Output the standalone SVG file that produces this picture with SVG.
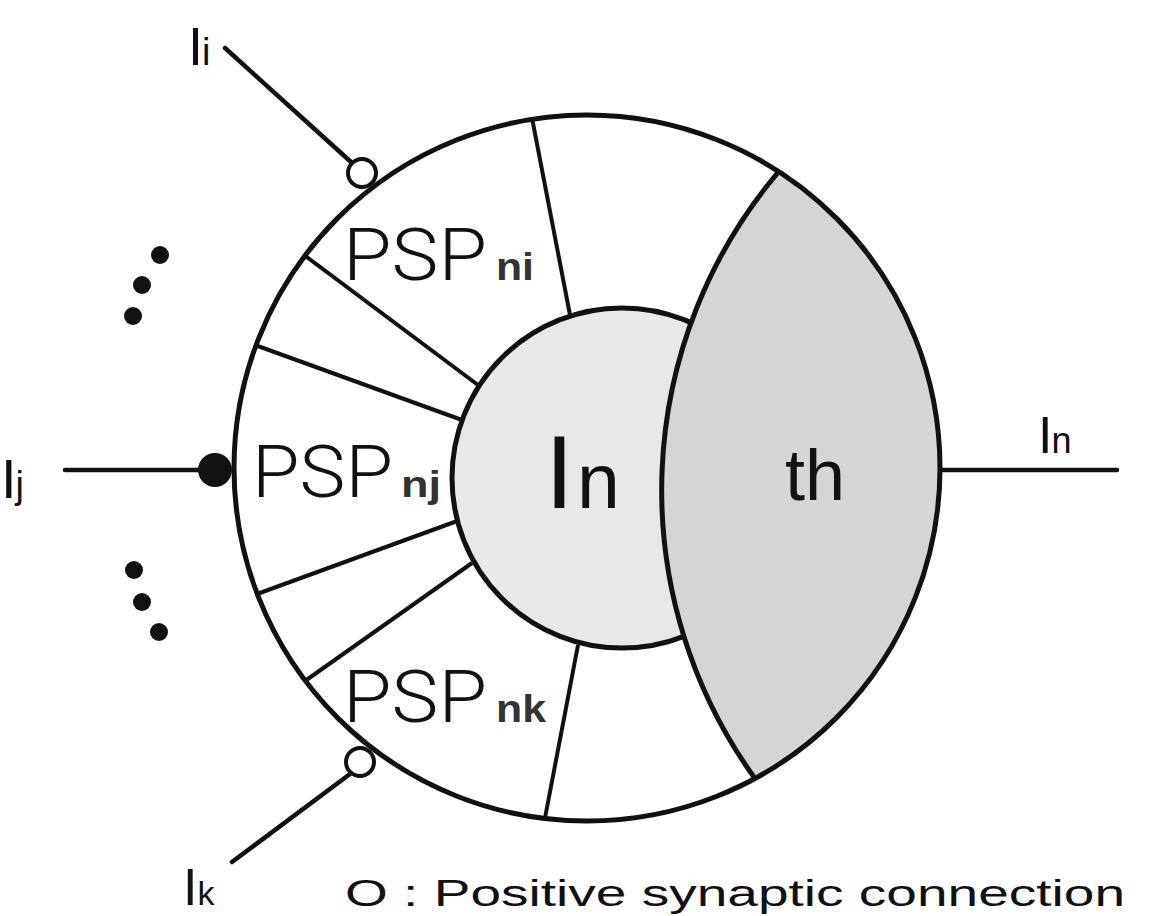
<svg xmlns="http://www.w3.org/2000/svg" width="1155" height="916" viewBox="0 0 1155 916">
<style>
.ln{stroke:#111;stroke-width:4.5;fill:none;stroke-linecap:round}
.thin{stroke:#111;stroke-width:4;fill:none}
.lbl{font-family:"Liberation Sans",Arial,sans-serif;fill:#111}
.psp{font-family:"Roboto","Liberation Sans",sans-serif;font-weight:300;font-size:72px;fill:#111}
.sub{font-family:"Liberation Sans",Arial,sans-serif;font-weight:bold;fill:#333}
.dot{fill:#111}
</style>
<rect width="1155" height="916" fill="#fff"/>
<g id="neuron">
  <circle cx="587" cy="468" r="353" fill="#fff" stroke="none"/>
</g>
<g id="psp-dividers">
  <line class="thin" x1="532" y1="118" x2="570" y2="315"/>
  <line class="thin" x1="304" y1="255" x2="478" y2="385"/>
  <line class="thin" x1="255" y1="345" x2="462" y2="420"/>
  <line class="thin" x1="257" y1="594" x2="460" y2="520"/>
  <line class="thin" x1="305" y1="681" x2="472" y2="563"/>
  <line class="thin" x1="545" y1="818" x2="578" y2="645"/>
</g>
<g id="In-node">
  <circle cx="622" cy="478" r="170" fill="#e8e8e8" stroke="#111" stroke-width="5"/>
  <text class="lbl" x="545" y="508" font-size="104">I<tspan dx="3" font-size="77">n</tspan></text>
</g>
<g id="th-node">
  <path d="M778 172.5 A492 492 0 0 0 755 778.5 A353 353 0 0 0 778 172.5 Z" fill="#d5d5d5" stroke="none"/>
  <path d="M778 172.5 A492 492 0 0 0 755 778.5" fill="none" stroke="#111" stroke-width="5"/>
  <text class="lbl" x="785" y="500" font-size="72" fill="#2a2a2a">th</text>
</g>
<g id="neuron-outline">
  <circle cx="587" cy="468" r="353" fill="none" stroke="#111" stroke-width="5"/>
</g>
<g id="psp-labels">
  <text class="psp" x="343" y="280" textLength="144" lengthAdjust="spacingAndGlyphs">PSP</text>
  <text class="sub" x="496" y="280" font-size="38" textLength="38" lengthAdjust="spacingAndGlyphs">ni</text>
  <text class="psp" x="252" y="497" textLength="141" lengthAdjust="spacingAndGlyphs">PSP</text>
  <text class="sub" x="401" y="497" font-size="36" textLength="40" lengthAdjust="spacingAndGlyphs">nj</text>
  <text class="psp" x="343" y="722" textLength="144" lengthAdjust="spacingAndGlyphs">PSP</text>
  <text class="sub" x="496" y="722" font-size="38" textLength="50" lengthAdjust="spacingAndGlyphs">nk</text>
</g>
<g id="connectors">
  <line class="ln" x1="225" y1="48" x2="351" y2="162"/>
  <line class="ln" x1="232" y1="862" x2="350" y2="774"/>
  <line class="ln" x1="65" y1="470" x2="205" y2="470"/>
  <line class="ln" x1="940" y1="470" x2="1117" y2="470"/>
</g>
<g id="synapse-i">
  <circle cx="362" cy="173" r="14" fill="#fff" stroke="#111" stroke-width="4"/>
</g>
<g id="synapse-k">
  <circle cx="360" cy="762" r="14" fill="#fff" stroke="#111" stroke-width="4"/>
</g>
<g id="synapse-j">
  <circle cx="215" cy="470" r="17" fill="#111"/>
</g>
<g id="ellipsis-top">
  <circle class="dot" cx="160" cy="255" r="9"/>
  <circle class="dot" cx="142" cy="285" r="9"/>
  <circle class="dot" cx="133" cy="316" r="9"/>
</g>
<g id="ellipsis-bottom">
  <circle class="dot" cx="134" cy="570" r="9"/>
  <circle class="dot" cx="142" cy="602" r="9"/>
  <circle class="dot" cx="159" cy="632" r="9"/>
</g>
<g id="input-labels">
  <text class="lbl" x="188" y="65" font-size="54">I<tspan dx="-1" font-size="38">i</tspan></text>
  <text class="lbl" x="1" y="498" font-size="56">I<tspan dx="-1" font-size="38">j</tspan></text>
  <text class="lbl" x="183" y="905" font-size="52">I<tspan dx="0" font-size="34">k</tspan></text>
  <text class="lbl" x="1038" y="453" font-size="52">I<tspan dx="-1" font-size="36">n</tspan></text>
</g>
<g id="legend">
  <text class="lbl" x="345" y="906" font-size="36" textLength="780" lengthAdjust="spacingAndGlyphs">O : Positive synaptic connection</text>
</g>
</svg>
